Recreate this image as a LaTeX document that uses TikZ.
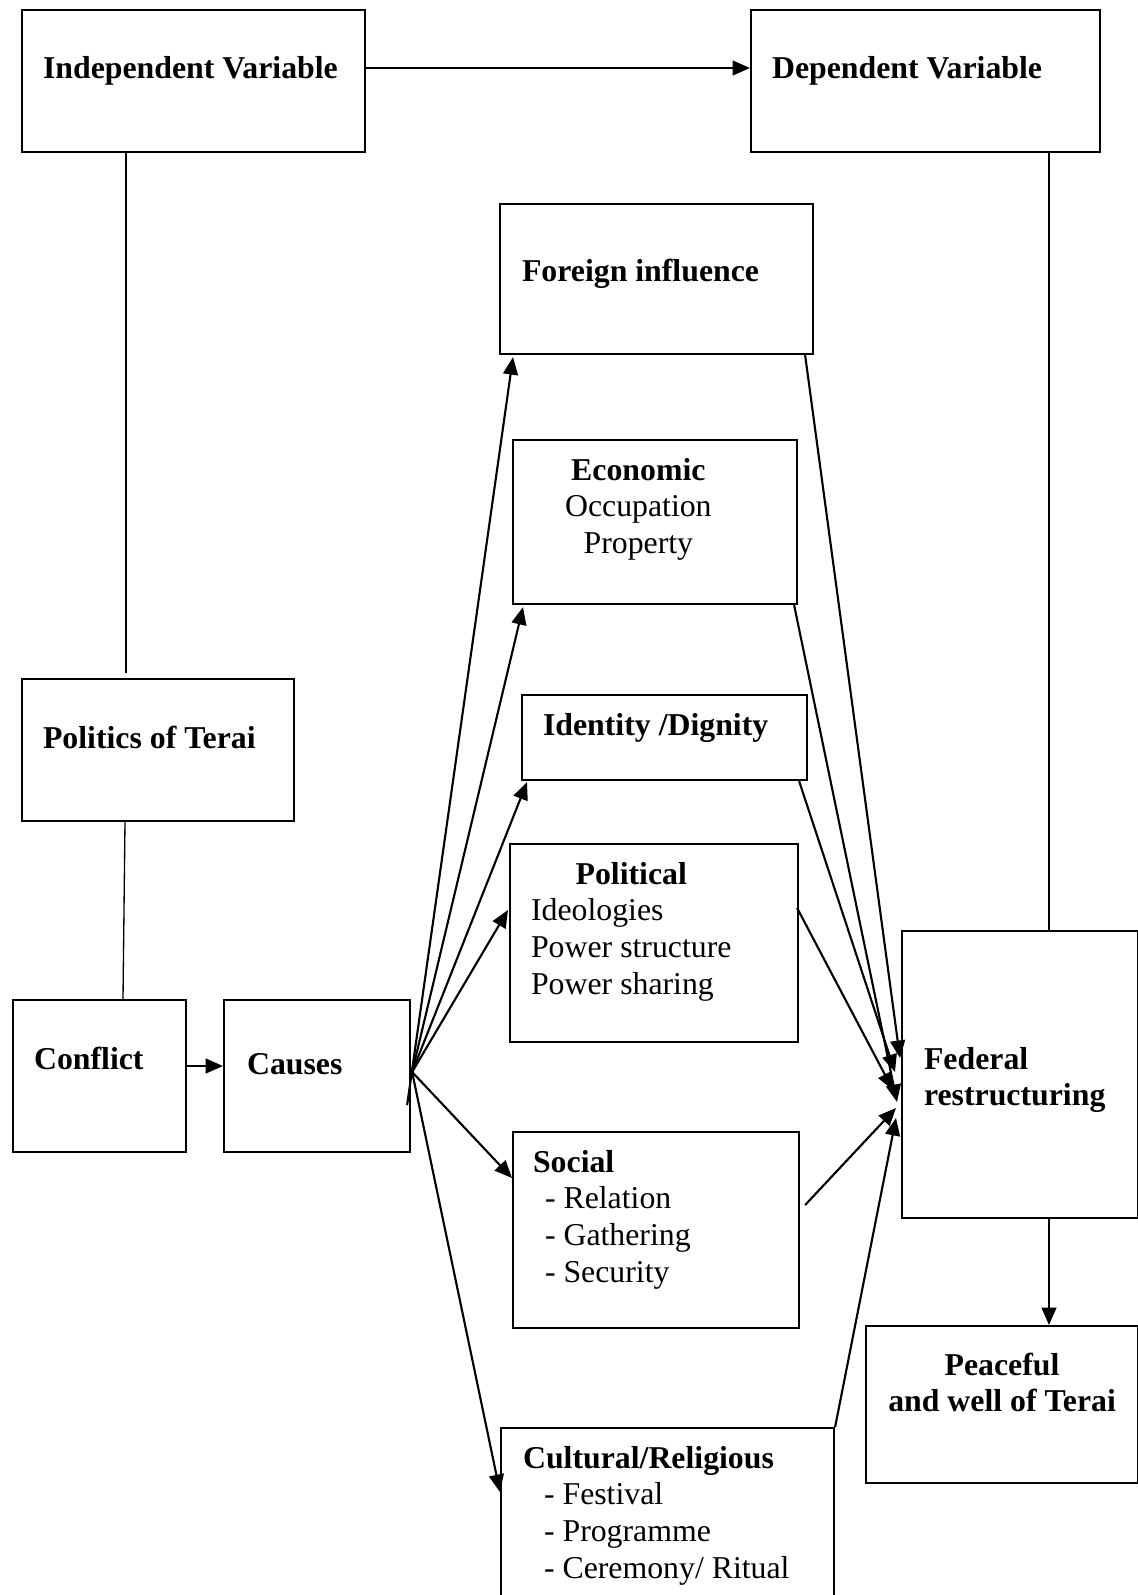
\documentclass[tikz,border=0pt]{standalone}
\usepackage{fontspec}
\setmainfont{Liberation Serif}
\usetikzlibrary{arrows.meta,calc}
\newlength\pxu
\setlength\pxu{0.3774pt}

\begin{document}
\begin{tikzpicture}[x=0.3774pt,y=-0.3774pt]
\tikzset{
  box/.style={draw, line width=0.8pt, anchor=north west, align=flush left, inner ysep=0pt,
    font=\fontsize{12}{13.85}\selectfont},
  % width/height/left pad/first baseline, all in pixels
  boxsize/.code args={#1/#2/#3/#4}{%
    \pgfmathsetlengthmacro\boxtw{(#1-2*#3)*\pxu}%
    \pgfmathsetlengthmacro\boxth{#4*\pxu}%
    \pgfmathsetlengthmacro\boxtd{(#2-#4)*\pxu}%
    \edef\boxkeys{text width=\boxtw, text height=\boxth, text depth=\boxtd, inner xsep=#3\pxu}%
    \expandafter\pgfkeysalso\expandafter{\boxkeys}},
  arr/.style={line width=0.8pt, -{Triangle[length=6.6pt,width=5.6pt]}},
  link/.style={line width=0.5pt}
}
\useasboundingbox (0,0) rectangle (1138,1595);

% variables
\node[box, boxsize=343/142/21/68] (iv) at (21,9) {\textbf{Independent Variable}};
\node[box, boxsize=349/142/21/68] (dv) at (750,9) {\textbf{Dependent Variable}};

% left column
\node[box, boxsize=272/142/21/69] (pol) at (21,678) {\textbf{Politics of Terai}};
\node[box, boxsize=173/152/21/69] (conflict) at (12,999) {\textbf{Conflict}};
\node[box, boxsize=186/152/23/74] (causes) at (223,999) {\textbf{Causes}};

% causes
\node[box, boxsize=313/150/22/77] (foreign) at (499,203) {\textbf{Foreign influence}};
\node[box, boxsize=284/164/52/40] (econ) at (512,439)
  {\begin{tabular}[t]{@{}c@{}}\textbf{Economic}\\ Occupation\\ Property\end{tabular}};
\node[box, boxsize=285/85/21/40] (identity) at (521,694) {\textbf{Identity /Dignity}};
\node[box, boxsize=288/198/21/40] (political) at (509,843)
  {\begin{tabular}[t]{@{}l@{}}\multicolumn{1}{@{}c@{}}{\textbf{Political}}\\ Ideologies\\ Power structure\\ Power sharing\end{tabular}};
\node[box, boxsize=286/196/20/40] (social) at (512,1131)
  {\textbf{Social}\\ \hspace*{12\pxu}- Relation\\ \hspace*{12\pxu}- Gathering\\ \hspace*{12\pxu}- Security};
\node[box, boxsize=333/200/22/40] (cultural) at (500,1427)
  {\textbf{Cultural/Religious}\\ \hspace*{21\pxu}- Festival\\ \hspace*{21\pxu}- Programme\\ \hspace*{21\pxu}- Ceremony/ Ritual};

% results
\node[box, boxsize=236/287/22/138] (fed) at (901,930) {\textbf{Federal}\\ \textbf{restructuring}};
\node[box, align=flush center, boxsize=272/157/10/49] (peace) at (865,1325) {\textbf{Peaceful}\\ \textbf{and well of Terai}};

% frame lines
\draw[arr] ($(iv.north east)+(0,59)$) -- ($(dv.north west)+(0,59)$);
\draw[link] ($(iv.south west)+(105,0)$) -- ($(pol.north west)+(105,-5)$);
\draw[link] ($(pol.south west)+(104,0)$) -- ($(conflict.north west)+(111,0)$);
\draw[arr] ($(conflict.north east)+(0,67)$) -- ($(causes.north west)+(0,67)$);
\draw[link] ($(dv.south west)+(299,0)$) -- ($(fed.north west)+(148,0)$);
\draw[arr] ($(fed.south west)+(148,0)$) -- ($(peace.north west)+(184,0)$);

% causes fan
\coordinate (hub) at ($(causes.north east)+(1,73)$);
\draw[arr] ($(causes.south east)+(-4,-48)$) -- ($(foreign.south west)+(14,2)$);
\draw[arr] (hub) -- ($(econ.south west)+(11,2)$);
\draw[arr] (hub) -- ($(identity.south west)+(6,1)$);
\draw[arr] (hub) -- ($(political.north west)+(-1,67)$);
\draw[arr] (hub) -- ($(social.north west)+(0,47)$);
\draw[arr] (hub) -- ($(cultural.north west)+(0,65)$);

% into federal restructuring
\draw[arr] ($(foreign.south east)+(-9,0)$) -- ($(fed.north west)+(-1,128)$);
\draw[arr] ($(econ.south east)+(-4,0)$) -- ($(fed.north west)+(-4,172)$);
\draw[arr] ($(identity.south east)+(-9,0)$) -- ($(fed.north west)+(-6,142)$);
\draw[arr] ($(political.north east)+(-2,65)$) -- ($(fed.north west)+(-8,160)$);
\draw[arr] ($(social.north east)+(5,74)$) -- ($(fed.north west)+(-5,178)$);
\draw[arr] (cultural.north east) -- ($(fed.north west)+(-5,188)$);
\end{tikzpicture}
\end{document}
